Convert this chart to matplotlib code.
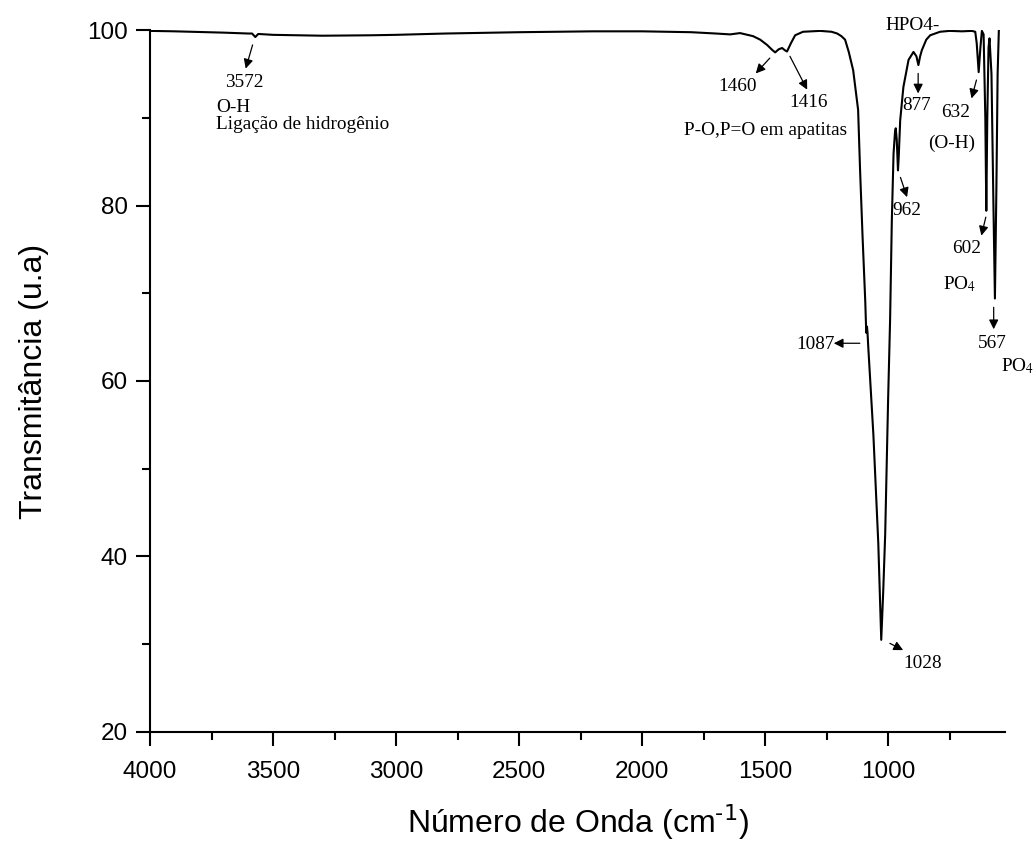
# coding=utf-8
import matplotlib
matplotlib.use('Agg')
from matplotlib import pyplot as plt

# espectro FTIR (numero de onda, transmitancia)
wavenumber = [4000, 3900, 3700, 3600, 3585, 3572, 3560, 3500, 3300, 3100,
              3000, 2800, 2500, 2200, 2000, 1800, 1700, 1642, 1602, 1549,
              1520, 1492, 1470, 1459, 1445, 1431, 1420, 1411, 1395, 1378,
              1346, 1276, 1230, 1207, 1190, 1175, 1160, 1142, 1122, 1114,
              1104, 1093, 1089, 1086, 1084, 1081, 1060, 1040, 1028, 1020,
              1012, 1000, 992, 985, 978, 972, 969, 965, 960, 957,
              951, 938, 917, 897, 885, 877, 870, 863, 845, 829,
              789, 750, 700, 660, 646, 640, 632, 625, 619, 612,
              605, 601, 597, 592, 588, 580, 572, 566, 560, 555,
              550, 540]
transmittance = [99.9, 99.85, 99.7, 99.6, 99.6, 99.2, 99.55, 99.45, 99.35, 99.4,
                 99.45, 99.6, 99.75, 99.85, 99.85, 99.75, 99.6, 99.5, 99.65, 99.3,
                 98.9, 98.3, 97.7, 97.45, 97.8, 97.95, 97.7, 97.55, 98.5, 99.4,
                 99.8, 99.9, 99.8, 99.6, 99.3, 98.9, 97.5, 95.4, 90.9, 84.0,
                 76.5, 69.1, 65.5, 66.2, 65.6, 64.0, 53.9, 41.5, 30.5, 36.0,
                 42.5, 58.0, 67.0, 78.3, 85.9, 88.4, 88.8, 87.5, 84.0, 85.5,
                 89.7, 93.5, 96.6, 97.5, 97.0, 96.0, 97.0, 97.7, 98.9, 99.4,
                 99.8, 99.9, 99.85, 99.9, 99.8, 98.5, 95.2, 98.0, 99.9, 99.5,
                 90.0, 79.4, 90.0, 98.0, 99.05, 95.0, 80.0, 69.4, 82.0, 95.0,
                 100.0, 101.5]

# rotulos: (texto, x, y, alinhamento)
labels = [
    ('3572', 3618, 93.5, 'center'),
    ('O-H', 3732, 90.6, 'left'),
    ('Ligação de hidrogênio', 3732, 88.7, 'left'),
    ('1460', 1613, 93.0, 'center'),
    ('1416', 1324, 91.2, 'center'),
    ('P-O,P=O em apatitas', 1499, 88.06, 'center'),
    ('1087', 1294, 63.66, 'center'),
    ('1028', 861, 27.3, 'center'),
    ('962', 922, 78.9, 'center'),
    ('877', 885, 90.86, 'center'),
    ('HPO4-', 902, 100.05, 'center'),
    ('632', 726, 90.1, 'center'),
    ('(O-H)', 741, 86.6, 'center'),
    ('602', 679, 74.55, 'center'),
    ('PO$_4$', 779, 70.4, 'left'),
    ('567', 575, 63.8, 'center'),
    ('PO$_4$', 540, 61.1, 'left'),
]

# setas: (x inicio, y inicio, x ponta, y ponta)
arrows = [
    (3583, 98.3, 3611, 95.6),
    (1481, 96.8, 1538, 95.05),
    (1399, 97.0, 1329, 93.2),
    (1115, 64.3, 1221, 64.3),
    (993, 30.1, 939, 29.33),
    (950, 83.2, 923, 80.95),
    (878, 95.05, 878, 92.77),
    (641, 94.3, 661, 92.2),
    (603, 78.67, 621, 76.57),
    (571, 68.4, 571, 65.9),
]

fig = plt.figure(figsize=(10.33, 8.43), dpi=100)
ax = fig.add_axes([0.1452, 0.1317, 0.8277, 0.8327])

ax.plot(wavenumber, transmittance, color='black', lw=1.5)

ax.set_xlim(4000, 525)
ax.set_ylim(20, 100)
ax.set_xticks([4000, 3500, 3000, 2500, 2000, 1500, 1000])
ax.set_xticks(range(3750, 525, -500), minor=True)
ax.set_yticks([20, 40, 60, 80, 100])
ax.set_yticks([30, 50, 70, 90], minor=True)

for side in ('top', 'right'):
    ax.spines[side].set_visible(False)
for side in ('left', 'bottom'):
    ax.spines[side].set_linewidth(1.5)

ax.tick_params(which='major', length=10, width=1.5, direction='out',
               labelsize=17.5)
ax.tick_params(which='minor', length=5.5, width=1.5, direction='out')
ax.tick_params(axis='x', which='major', pad=11)
ax.tick_params(axis='y', which='major', pad=6)
for lab in ax.get_xticklabels() + ax.get_yticklabels():
    lab.set_fontfamily('Liberation Sans')

ax.set_xlabel(r'Número de Onda (cm$^{\text{-1}}$)', fontsize=23,
              fontfamily='Liberation Sans', math_fontfamily='dejavusans')
ax.set_ylabel('Transmitância (u.a)', fontsize=23, fontfamily='Liberation Sans')
ax.xaxis.set_label_coords(0.5, -0.1)
ax.yaxis.set_label_coords(-0.1187, 0.5)

for txt, x, y, ha in labels:
    ax.text(x, y, txt, fontsize=13.9, fontfamily='Liberation Serif',
            math_fontfamily='stix', ha=ha, va='baseline', clip_on=False)

for x0, y0, x1, y1 in arrows:
    ax.annotate('', xy=(x1, y1), xytext=(x0, y0),
                arrowprops=dict(arrowstyle='-|>', color='black', lw=0.9,
                                mutation_scale=14, shrinkA=0, shrinkB=0))

fig.savefig('out.png', dpi=100)
